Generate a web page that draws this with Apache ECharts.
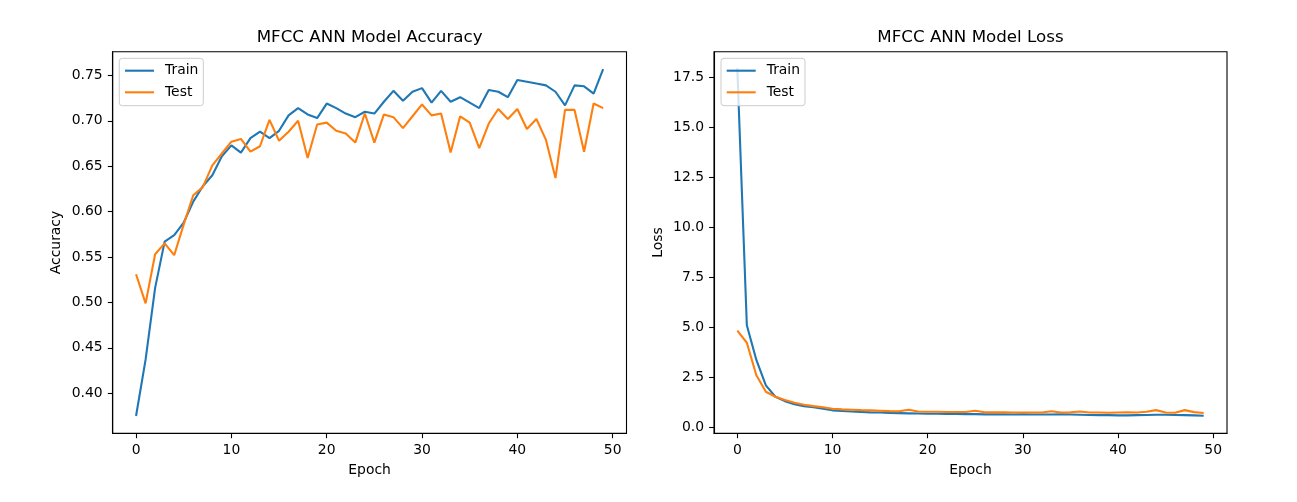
<!DOCTYPE html>
<html><head><meta charset="utf-8">
<script src="https://cdn.jsdelivr.net/npm/echarts@6/dist/echarts.min.js"></script>
<style>html,body{margin:0;padding:0;background:#fff}#c{width:1297px;height:502px}</style>
</head><body><div id="c"></div><script>
const epochs = [0,1,2,3,4,5,6,7,8,9,10,11,12,13,14,15,16,17,18,19,20,21,22,23,24,25,26,27,28,29,30,31,32,33,34,35,36,37,38,39,40,41,42,43,44,45,46,47,48,49];
const trainAcc = [0.375,0.437,0.516,0.567,0.574,0.588,0.611,0.628,0.640,0.661,0.673,0.665,0.681,0.688,0.681,0.689,0.706,0.714,0.707,0.703,0.719,0.714,0.708,0.704,0.710,0.708,0.721,0.733,0.722,0.732,0.736,0.720,0.733,0.721,0.726,0.720,0.714,0.734,0.732,0.726,0.745,0.743,0.741,0.739,0.732,0.717,0.739,0.738,0.730,0.757];
const testAcc = [0.531,0.499,0.553,0.565,0.552,0.586,0.618,0.627,0.651,0.664,0.677,0.680,0.666,0.672,0.701,0.678,0.688,0.700,0.659,0.696,0.698,0.689,0.686,0.676,0.708,0.676,0.707,0.704,0.692,0.705,0.718,0.706,0.708,0.665,0.705,0.698,0.670,0.697,0.713,0.702,0.713,0.691,0.702,0.679,0.637,0.712,0.712,0.666,0.719,0.714];
const trainLoss = [17.95,5.1,3.37,2.1,1.53,1.31,1.16,1.06,1.0,0.93,0.85,0.82,0.79,0.77,0.75,0.74,0.72,0.71,0.70,0.69,0.68,0.68,0.67,0.67,0.66,0.66,0.65,0.65,0.65,0.64,0.65,0.64,0.64,0.64,0.65,0.64,0.63,0.62,0.61,0.61,0.60,0.60,0.61,0.62,0.63,0.63,0.62,0.61,0.60,0.58];
const testLoss = [4.83,4.23,2.6,1.78,1.53,1.37,1.23,1.13,1.06,1.0,0.93,0.90,0.88,0.86,0.85,0.83,0.81,0.80,0.88,0.79,0.78,0.78,0.77,0.77,0.77,0.83,0.75,0.75,0.75,0.74,0.74,0.74,0.74,0.80,0.74,0.75,0.79,0.74,0.74,0.73,0.74,0.75,0.74,0.78,0.86,0.74,0.73,0.86,0.76,0.72];
const epochTicks = [0,10,20,30,40,50];
const accTicks = [0.40,0.45,0.50,0.55,0.60,0.65,0.70,0.75];
const lossTicks = [0,2.5,5,7.5,10,12.5,15,17.5];
const titles = ['MFCC ANN Model Accuracy','MFCC ANN Model Loss'];
const seriesNames = ['Train','Test'];
const colors = ['#1f77b4','#ff7f0e'];

const FS = 13.9;
const pair = (ys) => epochs.map((e,i)=>[e, ys[i]]);
const grids = [
  {left:112.7, top:51.7, width:513.8, height:381.6},
  {left:714, top:51.7, width:513, height:381.6}
];
function xAxis(gi){
  return {type:'value', gridIndex:gi, min:-2.45, max:51.45,
    axisLine:{show:true, onZero:false, lineStyle:{color:'#000', width:1.1}},
    axisTick:{show:true, customValues:epochTicks, length:4.9, lineStyle:{color:'#000', width:1.1}},
    axisLabel:{customValues:epochTicks, color:'#000', fontSize:FS, margin:10},
    splitLine:{show:false},
    name:'Epoch', nameLocation:'middle', nameGap:30, nameTextStyle:{color:'#000', fontSize:FS}};
}
function yAxis(gi, min, max, ticks, dec, name){
  return {type:'value', gridIndex:gi, min:min, max:max,
    axisLine:{show:true, onZero:false, lineStyle:{color:'#000', width:1.1}},
    axisTick:{show:true, customValues:ticks, length:4.9, lineStyle:{color:'#000', width:1.1}},
    axisLabel:{customValues:ticks, color:'#000', fontSize:FS, margin:10, formatter:(v)=>Number(v).toFixed(dec)},
    splitLine:{show:false},
    name:name, nameLocation:'middle', nameGap:49, nameTextStyle:{color:'#000', fontSize:FS}};
}
function line(name, ys, color, gi){
  return {type:'line', name:name, xAxisIndex:gi, yAxisIndex:gi, data:pair(ys),
    showSymbol:false, symbol:'none', lineStyle:{color:color, width:2.1}, itemStyle:{color:color}};
}
function legend(left, top){
  return {orient:'vertical', left:left, top:top, data:seriesNames,
    icon:'rect', itemWidth:29, itemHeight:2.1, itemGap:7.6,
    padding:[5.4,5,6.4,5.7], backgroundColor:'rgba(255,255,255,0.8)',
    borderColor:'#cccccc', borderWidth:1, borderRadius:3,
    textStyle:{color:'#000', fontSize:FS, padding:[0,0,0,6]}};
}
const chart = echarts.init(document.getElementById('c'), null, {renderer:'canvas'});
chart.setOption({
  animation:false,
  backgroundColor:'#fff',
  textStyle:{fontFamily:'DejaVu Sans'},
  title:[
    {text:titles[0], left:369.6, top:29.5, textAlign:'center', padding:0, textStyle:{fontSize:16.7, fontWeight:'normal', color:'#000'}},
    {text:titles[1], left:970.5, top:29.5, textAlign:'center', padding:0, textStyle:{fontSize:16.7, fontWeight:'normal', color:'#000'}}
  ],
  grid: grids.map(g=>Object.assign({show:true, borderColor:'#000', borderWidth:1.1, backgroundColor:'transparent'}, g)),
  xAxis:[xAxis(0), xAxis(1)],
  yAxis:[yAxis(0, 0.3559, 0.7761, accTicks, 2, 'Accuracy'), yAxis(1, -0.2985, 18.78, lossTicks, 1, 'Loss')],
  legend:[legend(119.3, 58.3), legend(721, 58.3)],
  series:[
    line(seriesNames[0], trainAcc, colors[0], 0),
    line(seriesNames[1], testAcc, colors[1], 0),
    line(seriesNames[0], trainLoss, colors[0], 1),
    line(seriesNames[1], testLoss, colors[1], 1)
  ]
});
</script></body></html>
